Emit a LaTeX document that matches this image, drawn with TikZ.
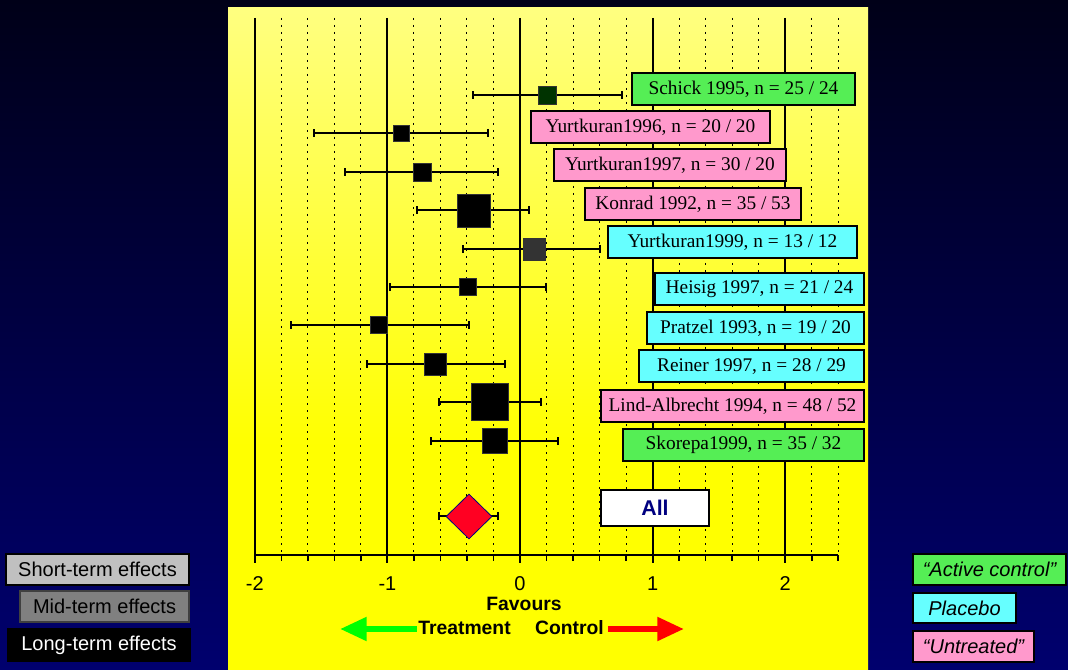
\documentclass[tikz,border=0pt]{standalone}
\usepackage{fontspec}
\setmainfont{Liberation Serif}
\setsansfont{Liberation Sans}
\usetikzlibrary{shapes.geometric,arrows.meta}
\definecolor{bgtop}{HTML}{000018}
\definecolor{bgbot}{HTML}{00006E}
\definecolor{ytop}{HTML}{FFFF80}
\definecolor{ybot}{HTML}{FFFF00}
\definecolor{actgreen}{HTML}{55EE55}
\definecolor{plcyan}{HTML}{66FFFF}
\definecolor{untpink}{HTML}{FF99CC}
\definecolor{sqgreen}{HTML}{003300}
\definecolor{sqgray}{HTML}{333333}
\definecolor{allblue}{HTML}{000080}
\definecolor{diared}{HTML}{FF0022}
\definecolor{shortgray}{HTML}{C0C0C0}
\definecolor{midgray}{HTML}{808080}
\definecolor{midedge}{HTML}{404040}
\definecolor{arrgreen}{HTML}{00FF00}
\definecolor{arrred}{HTML}{FF0000}
\pgfdeclareverticalshading{bgsh}{100bp}{color(0bp)=(bgbot); color(25bp)=(bgbot); color(75bp)=(bgtop); color(100bp)=(bgtop)}
\pgfdeclareverticalshading{ysh}{100bp}{color(0bp)=(ybot); color(42bp)=(ybot); color(75bp)=(ytop); color(100bp)=(ytop)}
\tikzset{
  majorline/.style={line width=1.5pt, black},
  minorline/.style={line width=0.75pt, black, dash pattern=on 1.5pt off 3.75pt},
  tickline/.style={line width=1.2pt, black},
  ci/.style={line width=1.5pt, black, {Bar[width=6pt]}-{Bar[width=6pt]}},
  sq/.style={draw=black!80, line width=0.5pt, inner sep=0pt, minimum size=#1},
  lab/.style={draw=black, line width=1.5pt, minimum height=24pt, inner sep=0pt, font=\fontsize{14.5}{16}\selectfont},
  ticklab/.style={font=\sffamily\fontsize{15}{18}\selectfont, inner sep=0pt},
  axt/.style={font=\sffamily\bfseries\fontsize{14.5}{17}\selectfont, inner sep=1pt},
  legbox/.style={line width=1.2pt, inner sep=0pt, font=\sffamily\fontsize{15}{18}\selectfont},
  typebox/.style={draw=black, line width=1.2pt, inner sep=0pt, font=\sffamily\itshape\fontsize{15}{18}\selectfont},
  garr/.style={line width=4.5pt, arrgreen, -{Triangle[length=20pt,width=17pt]}},
  rarr/.style={line width=4.5pt, arrred, -{Triangle[length=20pt,width=17pt]}},
}
\begin{document}
\begin{tikzpicture}[x=0.75pt,y=-0.75pt]
\useasboundingbox (0,0) rectangle (1068,670);
\shade[shading=bgsh] (0,0) rectangle (1068,670);
\shade[shading=ysh] (228,8) rectangle (868,670);
% grid
\foreach \k in {-10,...,12} {
  \pgfmathsetmacro\xx{520+26.52*\k}
  \pgfmathtruncatemacro\m{mod(abs(\k),5)}
  \ifnum\m=0
    \draw[majorline] (\xx,18) -- (\xx,563);
  \else
    \draw[minorline] (\xx,18) -- (\xx,555);
    \draw[tickline] (\xx,555) -- (\xx,561);
  \fi
}
\draw[majorline] (254.8,555) -- (838.3,555);
\node[ticklab] (tm2) at (254.8,584) {-2};
\node[ticklab] (tm1) at (387.4,584) {-1};
\node[ticklab] (t0) at (520,584) {0};
\node[ticklab] (t1) at (652.6,584) {1};
\node[ticklab] (t2) at (785.2,584) {2};
% studies
\coordinate (a1) at (472,95); \coordinate (b1) at (623,95);
\draw[ci] (a1) -- (b1);
\node[sq=13.5pt, fill=sqgreen] (s1) at (547,95) {};
\coordinate (a2) at (313,133); \coordinate (b2) at (489,133);
\draw[ci] (a2) -- (b2);
\node[sq=12pt, fill=black] (s2) at (401,133) {};
\coordinate (a3) at (344,172); \coordinate (b3) at (499,172);
\draw[ci] (a3) -- (b3);
\node[sq=13.5pt, fill=black] (s3) at (422,172) {};
\coordinate (a4) at (416,210); \coordinate (b4) at (530,210);
\draw[ci] (a4) -- (b4);
\node[sq=25pt, fill=black] (s4) at (474,211) {};
\coordinate (a5) at (462,249); \coordinate (b5) at (601,249);
\draw[ci] (a5) -- (b5);
\node[sq=17.25pt, fill=sqgray, draw=none] (s5) at (534,250) {};
\coordinate (a6) at (389,287); \coordinate (b6) at (547,287);
\draw[ci] (a6) -- (b6);
\node[sq=12.75pt, fill=black] (s6) at (468,287) {};
\coordinate (a7) at (290,325); \coordinate (b7) at (470,325);
\draw[ci] (a7) -- (b7);
\node[sq=12.75pt, fill=black] (s7) at (379,325) {};
\coordinate (a8) at (366,364); \coordinate (b8) at (506,364);
\draw[ci] (a8) -- (b8);
\node[sq=16.5pt, fill=black] (s8) at (435,364) {};
\coordinate (a9) at (438,402); \coordinate (b9) at (542,402);
\draw[ci] (a9) -- (b9);
\node[sq=27.75pt, fill=black] (s9) at (490,402) {};
\coordinate (a10) at (430,441); \coordinate (b10) at (559,441);
\draw[ci] (a10) -- (b10);
\node[sq=18.75pt, fill=black] (s10) at (495,441) {};
% labels
\node[lab, fill=actgreen, minimum width=167.25pt] (l1) at (743.5,89) {Schick 1995, n = 25 / 24};
\node[lab, fill=untpink, minimum width=179.25pt] (l2) at (650.5,127.5) {Yurtkuran1996, n = 20 / 20};
\node[lab, fill=untpink, minimum width=174pt] (l3) at (670,165.5) {Yurtkuran1997, n = 30 / 20};
\node[lab, fill=untpink, minimum width=162pt] (l4) at (693,204) {Konrad 1992, n = 35 / 53};
\node[lab, fill=plcyan, minimum width=186.75pt] (l5) at (732.5,242.5) {Yurtkuran1999, n = 13 / 12};
\node[lab, fill=plcyan, minimum width=156.75pt] (l6) at (759.5,289.5) {Heisig 1997, n = 21 / 24};
\node[lab, fill=plcyan, minimum width=162.75pt] (l7) at (755.5,328) {Pratzel 1993, n = 19 / 20};
\node[lab, fill=plcyan, minimum width=168.75pt] (l8) at (751.5,366.5) {Reiner 1997, n = 28 / 29};
\node[lab, fill=untpink, minimum width=197.25pt] (l9) at (732.5,406) {Lind-Albrecht 1994, n = 48 / 52};
\node[lab, fill=actgreen, minimum width=180.75pt] (l10) at (743.5,444.5) {Skorepa1999, n = 35 / 32};
% pooled
\coordinate (da) at (438,516); \coordinate (db) at (499,516);
\draw[ci] (da) -- (db);
\node[diamond, fill=diared, draw=allblue, line width=0.6pt, inner sep=0pt, minimum width=34.5pt, minimum height=33.75pt] (dm) at (469,516.5) {};
\node[draw=black, line width=1.5pt, fill=white, inner sep=0pt, minimum width=81pt, minimum height=27pt, text=allblue, font=\sffamily\bfseries\fontsize{16}{18}\selectfont] (all) at (655,508) {All};
% axis caption
\node[axt] (fav) at (524,604) {Favours};
\node[axt] (treat) at (464.5,628) {Treatment};
\node[axt] (ctrl) at (569.5,628) {Control};
\coordinate (gt) at (340,629);
\coordinate (rt) at (684,629);
\draw[garr] (treat.west |- gt) -- (gt);
\draw[rarr] ([xshift=2pt]ctrl.east |- rt) -- (rt);
% left legend
\node[legbox, fill=shortgray, draw=black, minimum width=137.25pt, minimum height=23.25pt] (short) at (97.5,569.5) {Short-term effects};
\node[legbox, fill=midgray, draw=midedge, minimum width=126.75pt, minimum height=23.25pt] (mid) at (104.5,606.5) {Mid-term effects};
\node[legbox, fill=black, draw=black, text=white, minimum width=136.5pt, minimum height=24pt] (long) at (99,645) {Long-term effects};
% right legend
\node[typebox, fill=actgreen, minimum width=114.75pt, minimum height=23.25pt] (act) at (989.5,569.5) {“Active control”};
\node[typebox, fill=plcyan, minimum width=77.25pt, minimum height=22.5pt] (plc) at (964.5,608) {Placebo};
\node[typebox, fill=untpink, minimum width=90.75pt, minimum height=23.25pt] (unt) at (973.5,646.5) {“Untreated”};
\end{tikzpicture}
\end{document}
